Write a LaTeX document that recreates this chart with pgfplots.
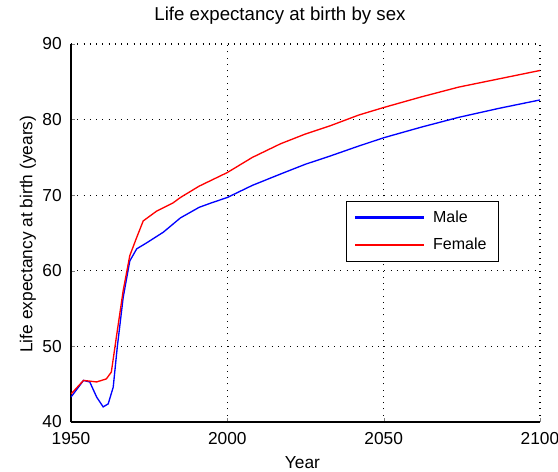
\documentclass[border=0pt]{standalone}
\usepackage{pgfplots}
\pgfplotsset{compat=1.18}
\usepackage{fontspec}
\setmainfont{Liberation Sans}
\begin{document}
\begin{tikzpicture}
\begin{axis}[
    width=351.75pt,height=283.5pt,
    scale only axis,
    xmin=1950,xmax=2100,ymin=40,ymax=90,
    xtick={1950,2000,2050,2100},
    ytick={40,50,...,90},
    axis x line*=bottom,axis y line*=left,
    axis line style={line width=1pt,-},
    tick align=inside,
    major tick length=3pt,
    grid=major,
    major grid style={black,line width=0.9pt,dash pattern=on 0.75pt off 3.95pt},
    tick label style={/pgf/number format/assume math mode=true,font=\fontsize{13}{15}\selectfont},
    x tick label style={/pgf/number format/1000 sep={},anchor=base,yshift=-16.5pt},
    y tick label style={anchor=east,inner xsep=0pt,xshift=-6.75pt},
    title={Life expectancy at birth by sex},
    title style={at={(axis description cs:0.4456,1.0416)},anchor=base,font=\fontsize{14}{16}\selectfont},
    xlabel={Year},
    xlabel style={at={(axis description cs:0.4936,-0.1243)},anchor=base,font=\fontsize{13}{15}\selectfont},
    ylabel={Life expectancy at birth (years)},
    ylabel style={at={(axis description cs:-0.0824,0.497)},anchor=base,font=\fontsize{13}{15}\selectfont},
    legend style={at={(0.5857,0.5847)},anchor=north west,draw=black,
        font=\fontsize{12}{14}\selectfont,row sep=6.5pt,
        inner xsep=7pt,inner ysep=5pt,
        /tikz/every odd column/.append style={column sep=5pt}},
    legend cell align=left,
    legend image code/.code={\fill[#1] (0pt,-0.55pt) rectangle (51pt,0.55pt);},
]
\addplot[blue,line width=1pt,forget plot] coordinates {
    (1950,43.3) (1952,44.4) (1954,45.5) (1956,45.3) (1958.2,43.3)
    (1960.3,42.0) (1961.9,42.4) (1963.5,44.6) (1964.8,49.9)
    (1966.7,56.5) (1968.8,61.3) (1971,62.9) (1974.2,63.7)
    (1979.5,65.1) (1985,67.0) (1991,68.4) (1995,69.0)
    (2000,69.7) (2008,71.3) (2017,72.8) (2025,74.1) (2033,75.2)
    (2042,76.5) (2050,77.6) (2062,79.0) (2074,80.3) (2087,81.5) (2100,82.6)
};
\addplot[red,line width=1pt,forget plot] coordinates {
    (1950,43.7) (1952,44.6) (1954,45.5) (1958.2,45.3) (1961.3,45.7)
    (1962.9,46.6) (1964.5,51.2) (1966.7,57.4) (1968.8,62.0)
    (1971,64.4) (1973.1,66.6) (1977.4,67.9) (1982.7,69.0)
    (1985,69.7) (1991,71.2) (1995,72.0) (2000,73.0) (2008,75.0)
    (2017,76.8) (2025,78.1) (2033,79.2) (2042,80.6) (2050,81.6)
    (2062,83.0) (2074,84.3) (2087,85.4) (2100,86.5)
};
\addlegendimage{blue}
\addlegendentry{Male}
\addlegendimage{red}
\addlegendentry{Female}
\end{axis}
\pgfresetboundingbox
\useasboundingbox (-53.25pt,-37.5pt) rectangle (365.25pt,316.5pt);
\end{tikzpicture}
\end{document}
